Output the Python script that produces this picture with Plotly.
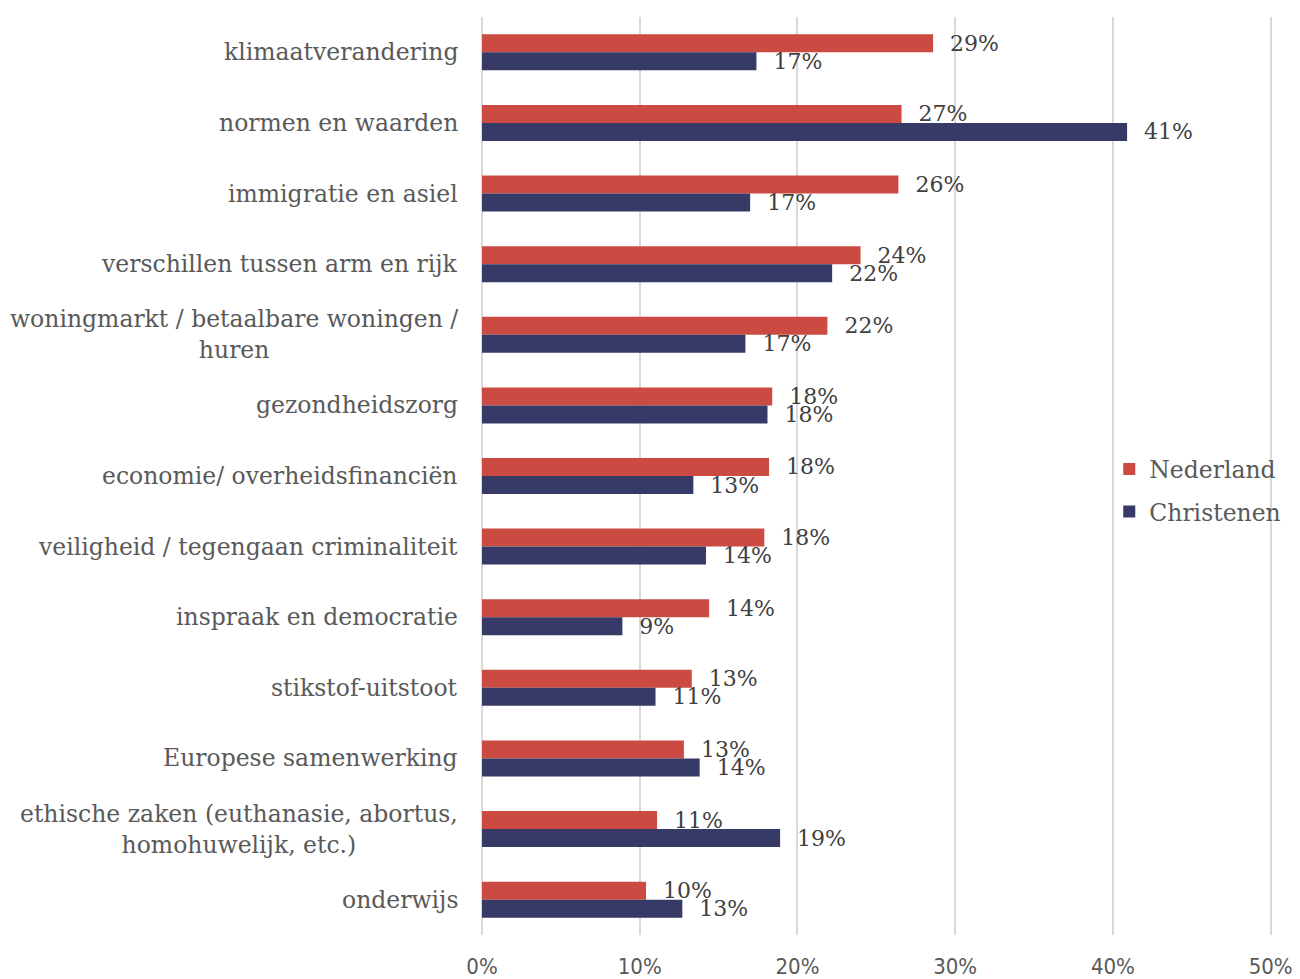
import plotly.graph_objects as go

categories = [
    "klimaatverandering",
    "normen en waarden",
    "immigratie en asiel",
    "verschillen tussen arm en rijk",
    "woningmarkt / betaalbare woningen /<br>huren",
    "gezondheidszorg",
    "economie/ overheidsfinanciën",
    "veiligheid / tegengaan criminaliteit",
    "inspraak en democratie",
    "stikstof-uitstoot",
    "Europese samenwerking",
    "ethische zaken (euthanasie, abortus,<br>homohuwelijk, etc.)",
    "onderwijs",
]
nederland = [28.6, 26.6, 26.4, 24.0, 21.9, 18.4, 18.2, 17.9, 14.4, 13.3, 12.8, 11.1, 10.4]
christenen = [17.4, 40.9, 17.0, 22.2, 16.7, 18.1, 13.4, 14.2, 8.9, 11.0, 13.8, 18.9, 12.7]
x_ticks = [0, 10, 20, 30, 40, 50]
x_tick_text = ["0%", "10%", "20%", "30%", "40%", "50%"]

RED = "#CB4B42"
BLUE = "#373A66"
TXT = "#595959"
SERIF = "DejaVu Serif, Liberation Serif, serif"

fig = go.Figure()
for name, vals, col in [("Nederland", nederland, RED), ("Christenen", christenen, BLUE)]:
    fig.add_trace(go.Bar(
        name=name, y=categories, x=vals, orientation="h", legendgroup=name,
        marker=dict(color=col, line=dict(width=0)),
        texttemplate="\u00a0\u00a0%{x:.0f}%", textposition="outside",
        textfont=dict(family=SERIF, size=22, color="#404040"),
        constraintext="none", cliponaxis=False,
    ))

for c in categories:
    fig.add_annotation(
        x=0, xref="paper", y=c, yref="y", text=c, showarrow=False,
        xanchor="right", yanchor="middle", align="center", xshift=-22,
        font=dict(family=SERIF, size=23.5, color=TXT),
    )

fig.update_layout(
    width=1300, height=979,
    margin=dict(l=474, r=35, t=9, b=52, autoexpand=False),
    paper_bgcolor="white", plot_bgcolor="white",
    barmode="group", bargap=0.49, bargroupgap=0,
    showlegend=True,
    legend=dict(x=0.793, y=0.484, xanchor="left", yanchor="middle",
                font=dict(family=SERIF, size=23.5, color=TXT),
                bgcolor="rgba(0,0,0,0)", itemwidth=30, tracegroupgap=9,
                traceorder="grouped"),
    xaxis=dict(range=[0, 50.15], tickvals=x_ticks, ticktext=x_tick_text, automargin=False,
               showgrid=True, gridcolor="#D9D9D9", gridwidth=2,
               zeroline=True, zerolinecolor="#D9D9D9", zerolinewidth=2,
               showline=False, ticks="outside", ticklen=12, tickcolor="rgba(0,0,0,0)",
               tickfont=dict(family="Liberation Sans Narrow, DejaVu Sans Condensed, Liberation Sans, sans-serif",
                             size=22, color=TXT)),
    yaxis=dict(autorange="reversed", showticklabels=False, showgrid=False, automargin=False,
               zeroline=False, showline=False),
)

fig.write_html("out.html")
